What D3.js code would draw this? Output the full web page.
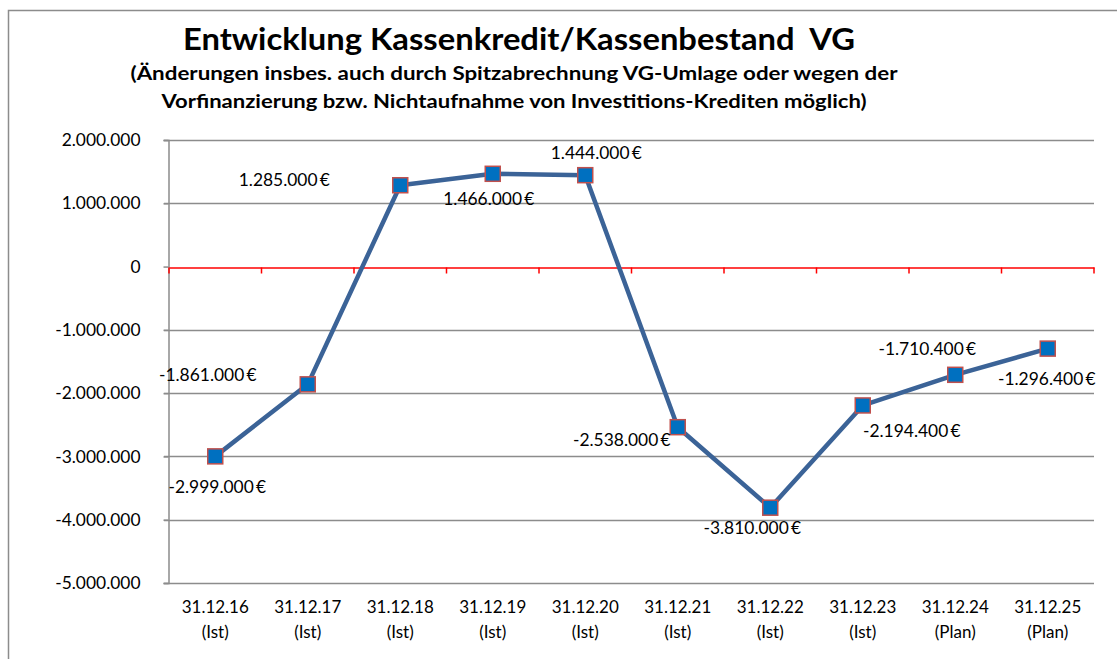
<!DOCTYPE html>
<html>
<head>
  <meta charset='utf-8' />
  <title>Entwicklung Kassenkredit/Kassenbestand VG</title>
  <style>
    body { margin: 0; background: #fff; }
    svg text { font-family: Lato, 'Open Sans', sans-serif; fill: #000; }
  </style>
</head>
<body>
<div id="chart"></div>
<script src='https://d3js.org/d3.v7.min.js' charset='utf-8'></script>
<script>
  const dates = ['31.12.16', '31.12.17', '31.12.18', '31.12.19', '31.12.20', '31.12.21', '31.12.22', '31.12.23', '31.12.24', '31.12.25']
  const status = ['(Ist)', '(Ist)', '(Ist)', '(Ist)', '(Ist)', '(Ist)', '(Ist)', '(Ist)', '(Plan)', '(Plan)']
  const values = [-2999000, -1861000, 1285000, 1466000, 1444000, -2538000, -3810000, -2194400, -1710400, -1296400]
  const yTicks = [2000000, 1000000, 0, -1000000, -2000000, -3000000, -4000000, -5000000]

  const title = 'Entwicklung Kassenkredit/Kassenbestand  VG'
  const subtitle = [
    '(Änderungen insbes. auch durch Spitzabrechnung VG-Umlage oder wegen der',
    'Vorfinanzierung bzw. Nichtaufnahme von Investitions-Krediten möglich)'
  ]

  // where each data label sits relative to its point (dx, dy in px)
  const labelOffsets = [[2, 31], [-100, -9], [-116, -5], [-4, 25], [11, -22], [-56, 13], [-18, 20], [49, 26], [-28, -26], [-1, 30]]

  const width = 1117, height = 659
  const margin = { left: 169, right: 23, top: 140, bottom: 76 }

  const svg = d3.select('#chart')
    .append('svg')
      .attr('width', width)
      .attr('height', height)

  // outer chart border (cut off at right/bottom like the screenshot)
  svg.append('rect')
    .attr('x', 8.5).attr('y', 10.5)
    .attr('width', width + 20).attr('height', height + 20)
    .attr('fill', 'none')
    .attr('stroke', '#8c8c8c')
    .attr('stroke-width', 1.5)

  const x = d3.scaleBand()
    .domain(dates)
    .range([margin.left, width - margin.right])

  const y = d3.scaleLinear()
    .domain([-5000000, 2000000])
    .range([height - margin.bottom, margin.top])

  const fmt = d3.formatLocale({ decimal: ',', thousands: '.', grouping: [3], minus: '-' })
  const fmtNum = fmt.format(',d')

  // titles
  svg.append('text')
    .attr('x', 519).attr('y', 50)
    .attr('text-anchor', 'middle')
    .attr('font-size', 31).attr('font-weight', 'bold')
    .attr('textLength', 672).attr('lengthAdjust', 'spacingAndGlyphs')
    .style('white-space', 'pre')
    .text(title)

  svg.selectAll('.sub')
    .data(subtitle)
    .enter().append('text')
      .attr('class', 'sub')
      .attr('x', 514)
      .attr('y', (d, i) => 80 + i * 28)
      .attr('text-anchor', 'middle')
      .attr('font-size', 19).attr('font-weight', 'bold')
      .attr('textLength', (d, i) => i === 0 ? 767 : 705)
      .attr('lengthAdjust', 'spacingAndGlyphs')
      .text(d => d)

  // gridlines
  svg.append('g')
    .selectAll('line')
    .data(yTicks.filter(d => d !== 0))
    .enter().append('line')
      .attr('x1', margin.left - 5)
      .attr('x2', width - margin.right)
      .attr('y1', d => Math.round(y(d)) + 0.5)
      .attr('y2', d => Math.round(y(d)) + 0.5)
      .attr('stroke', '#8c8c8c')
      .attr('stroke-width', 1.5)

  // y axis
  const yAxis = svg.append('g')
    .attr('transform', `translate(${margin.left - 0.5},0)`)
    .call(d3.axisLeft(y).tickValues(yTicks).tickSize(5).tickPadding(23).tickFormat(fmtNum))
  yAxis.select('.domain').attr('stroke', '#8c8c8c').attr('stroke-width', 1.5)
  yAxis.selectAll('.tick line').attr('stroke', '#8c8c8c').attr('stroke-width', 1.5)
  yAxis.selectAll('.tick text').attr('font-size', 17.4).attr('font-family', 'Lato, sans-serif').attr('fill', '#000')

  // zero line in red, with tick marks between categories
  const zeroAxis = svg.append('g')
    .attr('transform', `translate(0,${Math.round(y(0)) + 0.5})`)
    .call(d3.axisBottom(x).tickSize(0).tickFormat(''))
  zeroAxis.select('.domain').attr('stroke', '#ff0000').attr('stroke-width', 1.5)
  zeroAxis.selectAll('.tick').remove()
  const bounds = dates.map(d => x(d)).concat([x(dates[dates.length - 1]) + x.bandwidth()])
  zeroAxis.selectAll('.sep')
    .data(bounds)
    .enter().append('line')
      .attr('class', 'sep')
      .attr('x1', d => d).attr('x2', d => d)
      .attr('y1', 0).attr('y2', 6)
      .attr('stroke', '#ff0000')
      .attr('stroke-width', 1.5)

  // category labels at the bottom
  const catG = svg.append('g')
  catG.selectAll('.cat')
    .data(dates)
    .enter().append('text')
      .attr('x', d => x(d) + x.bandwidth() / 2)
      .attr('y', 613)
      .attr('text-anchor', 'middle')
      .attr('font-size', 17)
      .text(d => d)
  catG.selectAll('.st')
    .data(status)
    .enter().append('text')
      .attr('x', (d, i) => x(dates[i]) + x.bandwidth() / 2)
      .attr('y', 638)
      .attr('text-anchor', 'middle')
      .attr('font-size', 17)
      .text(d => d)

  // line
  const line = d3.line()
    .x((d, i) => x(dates[i]) + x.bandwidth() / 2)
    .y(d => y(d))

  svg.append('path')
    .datum(values)
    .attr('d', line)
    .attr('fill', 'none')
    .attr('stroke', '#3b6397')
    .attr('stroke-width', 4.5)
    .attr('stroke-linejoin', 'round')

  // markers
  svg.selectAll('.marker')
    .data(values)
    .enter().append('rect')
      .attr('class', 'marker')
      .attr('x', (d, i) => x(dates[i]) + x.bandwidth() / 2 - 7.5)
      .attr('y', d => y(d) - 7.5)
      .attr('width', 15).attr('height', 15)
      .attr('fill', '#0070c0')
      .attr('stroke', '#c0504d')
      .attr('stroke-width', 1.5)

  // data labels
  svg.selectAll('.dl')
    .data(values)
    .enter().append('text')
      .attr('class', 'dl')
      .attr('x', (d, i) => x(dates[i]) + x.bandwidth() / 2 + labelOffsets[i][0])
      .attr('y', (d, i) => y(d) + labelOffsets[i][1] + 6)
      .attr('text-anchor', 'middle')
      .attr('font-size', 17.4)
      .text(d => fmtNum(d) + '\u2009€')
</script>
</body>
</html>
